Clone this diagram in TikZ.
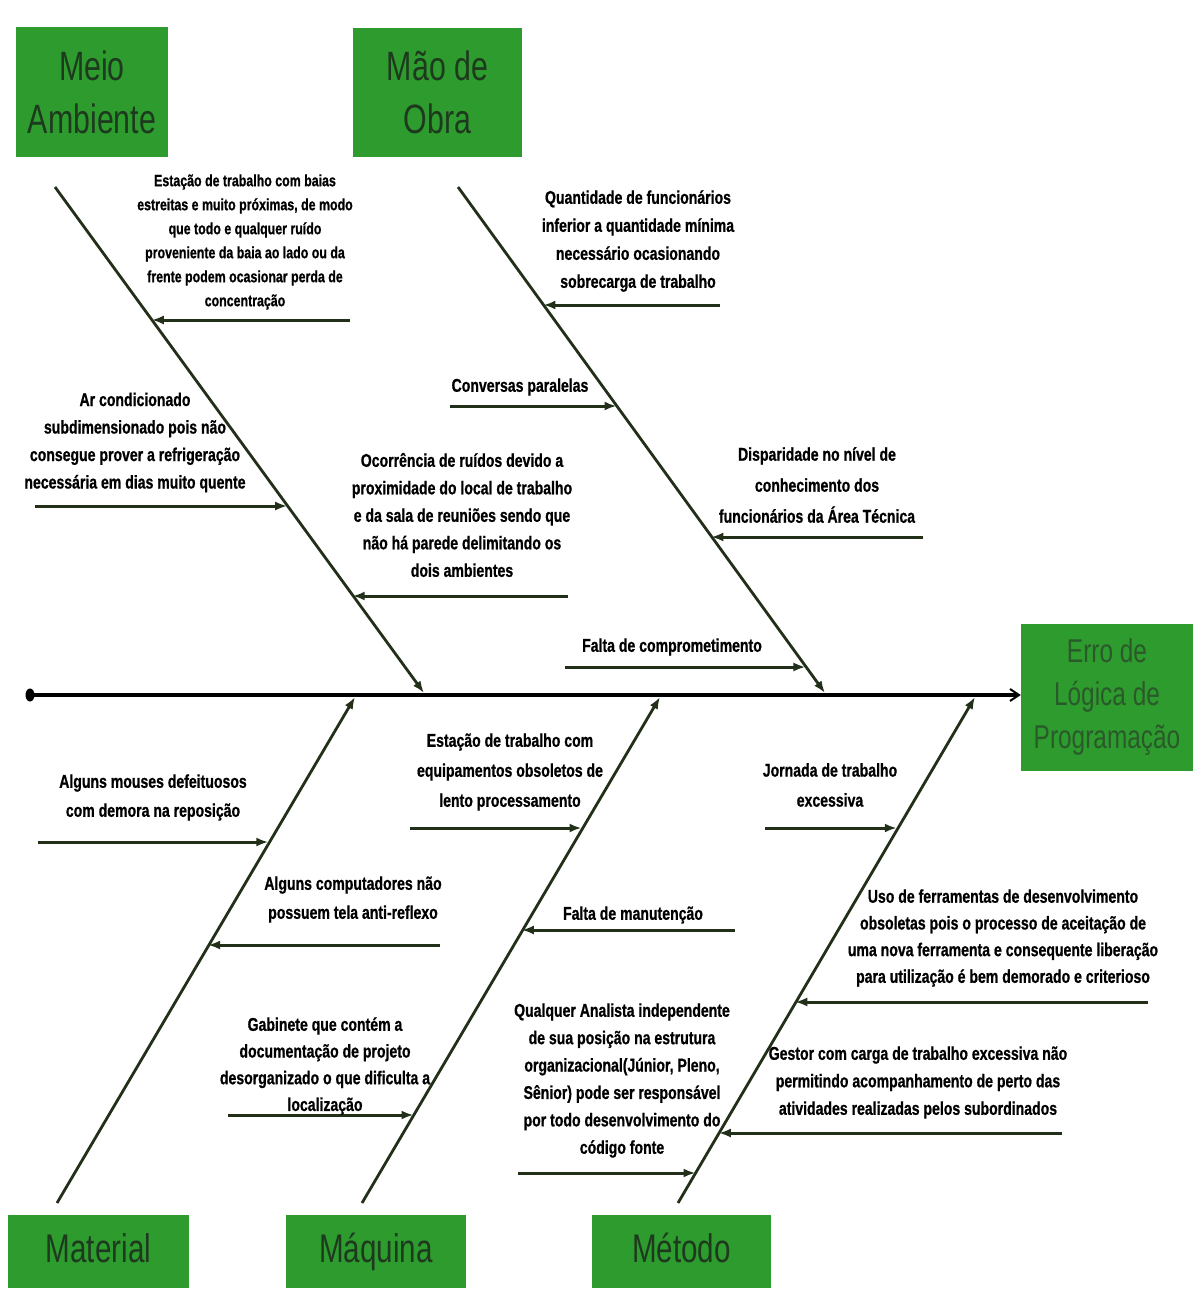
\documentclass[tikz,border=0pt]{standalone}
\usepackage{fontspec}
\setmainfont{Liberation Sans}
\newfontfamily\causefont{Liberation Sans}[FakeStretch=0.76,FakeBold=0.8]
\newfontfamily\catfont{Liberation Sans}[FakeStretch=0.74]
\usetikzlibrary{arrows.meta,calc,shapes.geometric}

\definecolor{catgreen}{HTML}{2E9B2E}
\definecolor{cattext}{HTML}{1E3A1E}
\definecolor{efftext}{HTML}{2A5A2A}
\definecolor{linecol}{HTML}{22301A}

\tikzset{
  catbox/.style={fill=catgreen, text=cattext, inner sep=0pt, align=center,
    font=\catfont\fontsize{41}{53}\selectfont},
  lowbox/.style={catbox, minimum height=73, text height=29, text depth=7,
    font=\catfont\fontsize{40}{48}\selectfont},
  effbox/.style={fill=catgreen, text=efftext, inner sep=0pt, align=center,
    font=\catfont\fontsize{33}{43}\selectfont},
  causetext/.style={inner sep=0pt, align=center, text=black,
    font=\causefont\bfseries\fontsize{18.5}{27.5}\selectfont},
  smalltext/.style={causetext, font=\causefont\bfseries\fontsize{16.3}{24}\selectfont},
  bone/.style={draw=linecol, line width=2.8pt, -{Latex[length=12pt,width=9pt]}},
  causearrow/.style={draw=linecol, line width=3pt, -{Latex[length=12pt,width=9pt]}},
  spine/.style={draw=black, line width=3.2pt, -{Straight Barb[length=9pt,width=12pt,line width=2pt]}}
}

\begin{document}
\begin{tikzpicture}[x=1pt,y=-1pt]
\useasboundingbox[fill=white] (0,0) rectangle (1193,1292);

% category boxes
\node[catbox, minimum width=152, minimum height=130] (meio) at (92,92) {Meio\\Ambiente};
\node[catbox, minimum width=169, minimum height=129] (mao) at (437.5,92.5) {Mão de\\Obra};
\node[lowbox, minimum width=181] (material) at (98.5,1251.5) {Material};
\node[lowbox, minimum width=180] (maquina) at (376,1251.5) {Máquina};
\node[lowbox, minimum width=179] (metodo) at (681.5,1251.5) {Método};

% effect box
\node[effbox, minimum width=172, minimum height=147] (efeito) at (1107,697.5) {Erro de\\Lógica de\\Programação};

% spine
\node[fill=black, ellipse, minimum width=9, minimum height=13, inner sep=0pt, draw=none] (tail) at (30,695) {};
\draw[spine] (tail.center) -- (tail.center -| efeito.west);

% bone end points
\coordinate (maS) at (55,187);   \coordinate (maE) at (424,693);
\coordinate (moS) at (458,187);  \coordinate (moE) at (825,693);
\coordinate (matS) at (57,1203); \coordinate (matE) at (355,697);
\coordinate (maqS) at (362,1203);\coordinate (maqE) at (660,697);
\coordinate (metS) at (678,1203);\coordinate (metE) at (975,697);

\draw[bone] (maS) -- (maE);
\draw[bone] (moS) -- (moE);
\draw[bone] (matS) -- (matE);
\draw[bone] (maqS) -- (maqE);
\draw[bone] (metS) -- (metE);

% cause arrow tips on the bones
\coordinate (t1) at ($(maS)!0.2623!(maE)$);
\coordinate (t2) at ($(maS)!0.6292!(maE)$);
\coordinate (t3) at ($(maS)!0.8067!(maE)$);
\coordinate (t4) at ($(moS)!0.2327!(moE)$);
\coordinate (t5) at ($(moS)!0.4320!(moE)$);
\coordinate (t6) at ($(moS)!0.6903!(moE)$);
\coordinate (t7) at ($(moS)!0.9467!(moE)$);
\coordinate (t8) at ($(matS)!0.7092!(matE)$);
\coordinate (t9) at ($(matS)!0.5069!(matE)$);
\coordinate (t10) at ($(maqS)!0.7367!(maqE)$);
\coordinate (t11) at ($(maqS)!0.5363!(maqE)$);
\coordinate (t12) at ($(maqS)!0.1729!(maqE)$);
\coordinate (t13) at ($(metS)!0.7367!(metE)$);
\coordinate (t14) at ($(metS)!0.3949!(metE)$);
\coordinate (t15) at ($(metS)!0.1375!(metE)$);
\coordinate (t16) at ($(metS)!0.0589!(metE)$);

% cause arrow tails
\coordinate (s1) at (350,320);
\coordinate (s2) at (35,506);
\coordinate (s3) at (568,596);
\coordinate (s4) at (720,305);
\coordinate (s5) at (450,406);
\coordinate (s6) at (923,537);
\coordinate (s7) at (565,667);
\coordinate (s8) at (38,842);
\coordinate (s9) at (440,945);
\coordinate (s10) at (410,828);
\coordinate (s11) at (735,930);
\coordinate (s12) at (228,1115);
\coordinate (s13) at (765,828);
\coordinate (s14) at (1148,1002);
\coordinate (s15) at (1062,1133);
\coordinate (s16) at (518,1173);

\foreach \i in {1,...,16} { \draw[causearrow] (s\i) -- (t\i |- s\i); }

% cause labels
\node[smalltext] (l1) at (245,242) {Estação de trabalho com baias\\estreitas e muito próximas, de modo\\que todo e qualquer ruído\\proveniente da baia ao lado ou da\\frente podem ocasionar perda de\\concentração};
\node[causetext, font=\causefont\bfseries\fontsize{18.5}{28}\selectfont] (l4) at (638,241) {Quantidade de funcionários\\inferior a quantidade mínima\\necessário ocasionando\\sobrecarga de trabalho};
\node[causetext] (l2) at (135,442.5) {Ar condicionado\\subdimensionado pois não\\consegue prover a refrigeração\\necessária em dias muito quente};
\node[causetext] (l3) at (462,515) {Ocorrência de ruídos devido a\\proximidade do local de trabalho\\e da sala de reuniões sendo que\\não há parede delimitando os\\dois ambientes};
\node[causetext] (l5) at (520,387) {Conversas paralelas};
\node[causetext, font=\causefont\bfseries\fontsize{18.5}{31}\selectfont] (l6) at (817,485) {Disparidade no nível de\\conhecimento dos\\funcionários da Área Técnica};
\node[causetext] (l7) at (672,647) {Falta de comprometimento};
\node[causetext, font=\causefont\bfseries\fontsize{18.5}{30}\selectfont] (l10) at (510,772) {Estação de trabalho com\\equipamentos obsoletos de\\lento processamento};
\node[causetext, font=\causefont\bfseries\fontsize{18.5}{29}\selectfont] (l8) at (153,797.5) {Alguns mouses defeituosos\\com demora na reposição};
\node[causetext, font=\causefont\bfseries\fontsize{18.5}{29}\selectfont] (l9) at (353,899.5) {Alguns computadores não\\possuem tela anti-reflexo};
\node[causetext] (l11) at (633,915) {Falta de manutenção};
\node[causetext, font=\causefont\bfseries\fontsize{18.5}{30}\selectfont] (l13) at (830,785) {Jornada de trabalho\\excessiva};
\node[causetext, font=\causefont\bfseries\fontsize{18.5}{26.7}\selectfont] (l14) at (1003,938) {Uso de ferramentas de desenvolvimento\\obsoletas pois o processo de aceitação de\\uma nova ferramenta e consequente liberação\\para utilização é bem demorado e criterioso};
\node[causetext, font=\causefont\bfseries\fontsize{18.5}{26.7}\selectfont] (l12) at (325,1066) {Gabinete que contém a\\documentação de projeto\\desorganizado o que dificulta a\\localização};
\node[causetext, font=\causefont\bfseries\fontsize{18.5}{27.4}\selectfont] (l16) at (622,1080.5) {Qualquer Analista independente\\de sua posição na estrutura\\organizacional(Júnior, Pleno,\\Sênior) pode ser responsável\\por todo desenvolvimento do\\código fonte};
\node[causetext] (l15) at (918,1082.5) {Gestor com carga de trabalho excessiva não\\permitindo acompanhamento de perto das\\atividades realizadas pelos subordinados};
\end{tikzpicture}
\end{document}
